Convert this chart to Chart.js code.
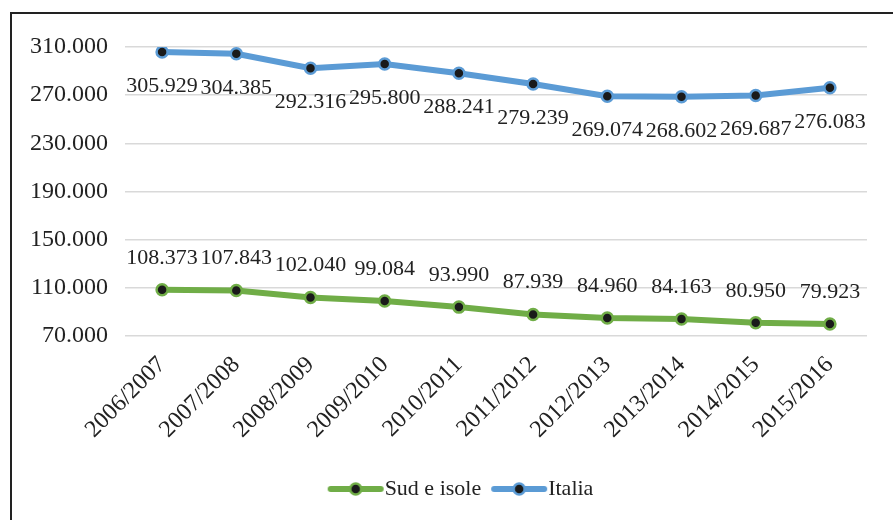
<!DOCTYPE html>
<html>
<head>
<meta charset="utf-8">
<script src="https://cdn.jsdelivr.net/npm/chart.js@4.4.1/dist/chart.umd.min.js"></script>
<style>
  html, body { margin: 0; padding: 0; background: #ffffff; overflow: hidden; width: 893px; height: 520px; }
  #frame { position: absolute; left: 10px; top: 12px; width: 898px; height: 520px;
           border-left: 2px solid #222; border-top: 2px solid #222; box-sizing: border-box; background: #fff; }
  #wrap { position: absolute; left: 0; top: 0; width: 896px; height: 506px; }
</style>
</head>
<body>
<div id="frame"><div id="wrap"><canvas id="c"></canvas></div></div>
<script>
// ---- data ----
const categories = ["2006/2007","2007/2008","2008/2009","2009/2010","2010/2011","2011/2012","2012/2013","2013/2014","2014/2015","2015/2016"];
const sudEIsole = [108373,107843,102040,99084,93990,87939,84960,84163,80950,79923];
const italia = [305929,304385,292316,295800,288241,279239,269074,268602,269687,276083];
const seriesNames = ["Sud e isole","Italia"];
const yTicks = [70000,110000,150000,190000,230000,270000,310000];

const GREEN = '#70AD47';
const BLUE = '#5B9BD5';
const SERIF = '"Liberation Serif", "Times New Roman", serif';
Chart.defaults.font.family = SERIF;
Chart.defaults.color = '#222';

function fmt(n) { return String(n).replace(/\B(?=(\d{3})+(?!\d))/g, '.'); }

function legendIcon(color) {
  const c = document.createElement('canvas');
  c.width = 58; c.height = 16;
  const g = c.getContext('2d');
  g.strokeStyle = color; g.lineWidth = 6; g.lineCap = 'round';
  g.beginPath(); g.moveTo(4, 8); g.lineTo(54, 8); g.stroke();
  g.beginPath(); g.arc(29, 8, 5.5, 0, Math.PI * 2);
  g.fillStyle = '#1a1a1a'; g.fill();
  g.lineWidth = 2.5; g.strokeStyle = color; g.stroke();
  return c;
}

const dataLabels = {
  id: 'dataLabels',
  afterDatasetsDraw(chart) {
    const ctx = chart.ctx;
    ctx.save();
    ctx.font = '22px ' + SERIF;
    ctx.fillStyle = '#222';
    ctx.textAlign = 'center';
    ctx.textBaseline = 'middle';
    chart.data.datasets.forEach((ds, di) => {
      const meta = chart.getDatasetMeta(di);
      const dy = ds.labelBelow ? 34 : -32;
      meta.data.forEach((pt, i) => {
        ctx.fillText(fmt(ds.data[i]), pt.x, pt.y + dy);
      });
    });
    ctx.restore();
  }
};

const shiftLegend = {
  id: 'shiftLegend',
  afterLayout(chart) {
    if (chart.legend) { chart.legend.left += 26; chart.legend.right += 26; }
  }
};

new Chart(document.getElementById('c'), {
  type: 'line',
  data: {
    labels: categories,
    datasets: [
      { label: seriesNames[0], data: sudEIsole, borderColor: GREEN, backgroundColor: GREEN,
        borderWidth: 6, pointRadius: 5.5, pointBorderWidth: 2.5, pointBackgroundColor: '#1a1a1a',
        pointBorderColor: GREEN, pointStyle: 'circle', tension: 0, labelBelow: false },
      { label: seriesNames[1], data: italia, borderColor: BLUE, backgroundColor: BLUE,
        borderWidth: 6, pointRadius: 5.5, pointBorderWidth: 2.5, pointBackgroundColor: '#1a1a1a',
        pointBorderColor: BLUE, pointStyle: 'circle', tension: 0, labelBelow: true }
    ]
  },
  options: {
    responsive: true,
    maintainAspectRatio: false,
    animation: false,
    layout: { padding: { left: 0, right: 41, top: 33, bottom: 10 } },
    plugins: {
      legend: {
        position: 'bottom',
        labels: {
          usePointStyle: true,
          pointStyleWidth: 36,
          font: { family: SERIF, size: 22 },
          color: '#222',
          padding: 20,
          generateLabels(chart) {
            return chart.data.datasets.map((ds, i) => ({
              text: ds.label, pointStyle: legendIcon(ds.borderColor), fillStyle: ds.borderColor,
              strokeStyle: ds.borderColor, lineWidth: 0, hidden: false, datasetIndex: i, fontColor: '#222'
            }));
          }
        }
      },
      tooltip: { enabled: false }
    },
    scales: {
      x: {
        offset: true,
        grid: { display: false, drawTicks: false },
        border: { display: false },
        ticks: { minRotation: 45, maxRotation: 45, padding: 15, color: '#222',
                 font: { family: SERIF, size: 24 } },
        afterFit(s) { s.height = 122; }
      },
      y: {
        min: yTicks[0], max: yTicks[yTicks.length - 1],
        grid: { color: '#D9D9D9', lineWidth: 1.5, drawTicks: false },
        border: { display: false },
        afterBuildTicks(s) { s.ticks = yTicks.map(v => ({ value: v })); },
        ticks: { padding: 17, color: '#222', font: { family: SERIF, size: 24 },
                 callback: (v) => fmt(v) },
        afterFit(s) { s.width = 113; }
      }
    }
  },
  plugins: [dataLabels, shiftLegend]
});
</script>
</body>
</html>
